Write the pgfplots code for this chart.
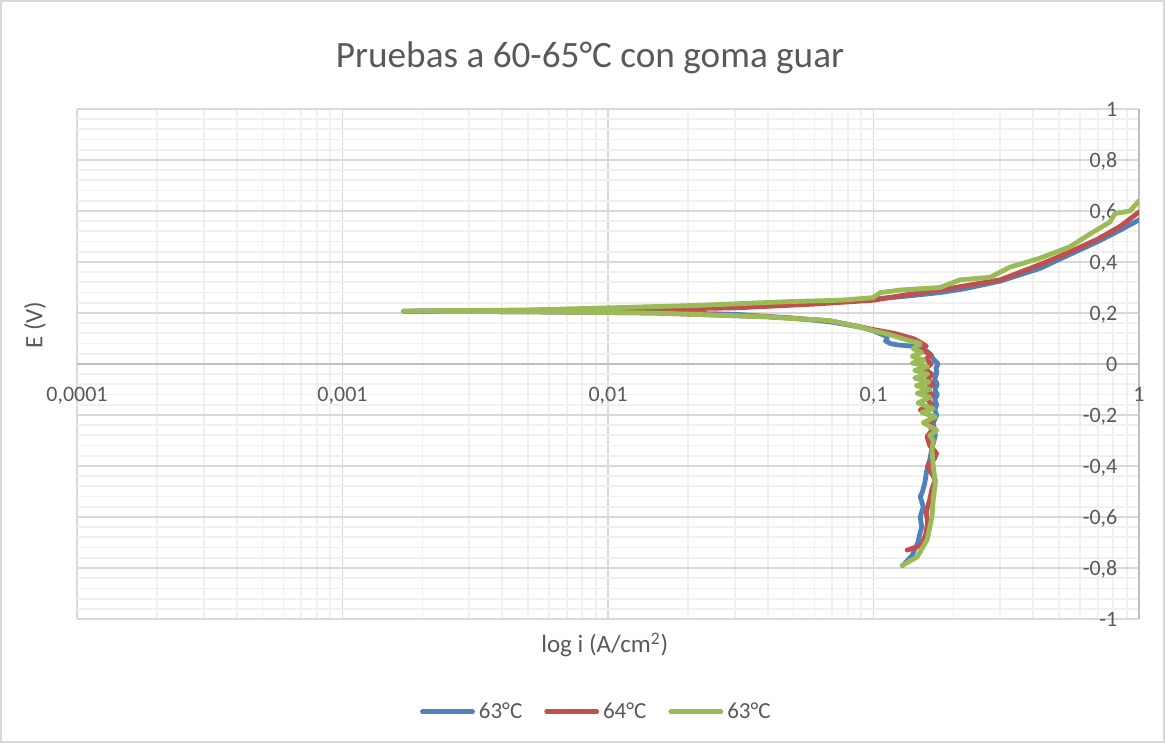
\documentclass[border=0pt]{standalone}
\usepackage{fontspec}
\setmainfont{Carlito}
\usepackage{pgfplots}
\pgfplotsset{compat=1.18}
\definecolor{exblue}{HTML}{4F81BD}
\definecolor{exred}{HTML}{C0504D}
\definecolor{exgreen}{HTML}{9BBB59}
\definecolor{txt}{HTML}{595959}
\definecolor{majg}{HTML}{D9D9D9}
\definecolor{ming}{HTML}{F0F0F0}
\definecolor{axl}{HTML}{BFBFBF}
\begin{document}
\begin{tikzpicture}[x=1pt,y=1pt]
\draw[fill=white, draw=majg, line width=0.8pt] (0.4,0.4) rectangle (582.1,371.1);
\node[txt, font=\fontsize{18.6}{22}\selectfont] at (295,342.5) {Pruebas a 60-65°C con goma guar};
\begin{axis}[
  at={(38.5pt,62pt)}, anchor=south west, scale only axis,
  width=531pt, height=255pt,
  xmode=log, xmin=1e-4, xmax=1, ymin=-1, ymax=1,
  axis x line=middle, axis y line=right,
  every inner x axis line/.append style={-},
  every outer y axis line/.append style={-},
  x axis line style={-, draw=axl, line width=0.9pt},
  y axis line style={-, draw=axl, line width=0.9pt},
  hide obscured x ticks=false, hide obscured y ticks=false,
  xtick={1e-4,1e-3,1e-2,1e-1,1},
  xticklabels={{0,0001},{0,001},{0,01},{0,1},{1}},
  ytick={-1,-0.8,-0.6,-0.4,-0.2,0,0.2,0.4,0.6,0.8,1},
  yticklabels={{-1},{-0,8},{-0,6},{-0,4},{-0,2},{0},{0,2},{0,4},{0,6},{0,8},{1}},
  minor y tick num=4,
  major tick length=0pt, minor tick length=0pt,
  grid=both,
  major grid style={draw=majg, line width=0.9pt},
  minor grid style={draw=ming, line width=0.9pt},
  ticklabel style={font=\fontsize{11}{13}\selectfont, text=txt},
  xticklabel style={anchor=base, yshift=-19pt},
  yticklabel style={anchor=base east, xshift=-7.3pt, yshift=-3.7pt},
  every axis x label/.style={at={(rel axis cs:0.497,-0.051)}, anchor=center},
  every axis y label/.style={at={(rel axis cs:-0.0395,0.576)}, anchor=center, rotate=90},
  label style={font=\fontsize{12.5}{14}\selectfont, text=txt},
  xlabel={log i (A/cm\textsuperscript{2})},
  ylabel={E (V)},
  legend columns=3,
  legend style={at={(rel axis cs:0.49,-0.182)}, anchor=center, draw=none, fill=none,
    font=\fontsize{11.5}{13}\selectfont, text=txt,
    /tikz/every even column/.append style={column sep=9pt}},
  legend image code/.code={\draw[#1, line width=2.4pt, line cap=round] (0pt,0pt) -- (25pt,0pt);},
  every axis plot/.append style={line width=2.4pt, line join=round, line cap=round},
]
\addplot[color=exblue] coordinates {
(0.129,-0.79) (0.140,-0.75) (0.147,-0.70) (0.150,-0.66) (0.152,-0.64) (0.150,-0.60)
(0.154,-0.56) (0.150,-0.52) (0.153,-0.50) (0.156,-0.467) (0.158,-0.43) (0.160,-0.40)
(0.163,-0.376) (0.166,-0.33) (0.171,-0.28) (0.168,-0.23) (0.173,-0.20) (0.170,-0.18)
(0.173,-0.16) (0.170,-0.14) (0.174,-0.12) (0.170,-0.10) (0.174,-0.08) (0.170,-0.06)
(0.173,-0.035) (0.172,-0.015) (0.175,0.0) (0.168,0.02) (0.163,0.04) (0.159,0.05)
(0.150,0.06) (0.140,0.07) (0.123,0.075) (0.116,0.08) (0.111,0.09) (0.113,0.10)
(0.111,0.11) (0.100,0.13) (0.089,0.145) (0.069,0.165)
(0.050,0.18) (0.030,0.195) (0.015,0.202) (0.005,0.205) (0.0017,0.207)
(0.005,0.21) (0.01,0.215) (0.03,0.225) (0.06,0.24) (0.1,0.255) (0.13,0.265)
(0.178,0.28) (0.22,0.295) (0.3,0.325) (0.424,0.375) (0.55,0.43) (0.7,0.48)
(0.85,0.525) (1.0,0.565)
};
\addlegendentry{63°C}
\addplot[color=exred] coordinates {
(0.134,-0.73) (0.152,-0.71) (0.157,-0.67) (0.160,-0.625) (0.158,-0.58) (0.163,-0.53)
(0.166,-0.49) (0.171,-0.455) (0.160,-0.40) (0.170,-0.37) (0.173,-0.35) (0.163,-0.32)
(0.159,-0.285) (0.166,-0.26) (0.163,-0.24) (0.168,-0.21) (0.150,-0.18) (0.166,-0.16)
(0.160,-0.14) (0.167,-0.12) (0.156,-0.10) (0.168,-0.08) (0.160,-0.06) (0.166,-0.04)
(0.156,-0.02) (0.165,0.0) (0.158,0.02) (0.165,0.035) (0.152,0.055) (0.158,0.07)
(0.150,0.085) (0.141,0.10) (0.134,0.106) (0.12,0.12) (0.10,0.135) (0.085,0.15)
(0.068,0.17) (0.04,0.185) (0.015,0.2)
(0.005,0.205) (0.0017,0.207) (0.005,0.209) (0.01,0.212) (0.03,0.22) (0.06,0.235)
(0.1,0.25) (0.13,0.27) (0.178,0.29) (0.3,0.33) (0.424,0.39) (0.55,0.44) (0.7,0.49)
(0.85,0.54) (1.0,0.596)
};
\addlegendentry{64°C}
\addplot[color=exgreen] coordinates {
(0.128,-0.79) (0.146,-0.757) (0.159,-0.69) (0.163,-0.64) (0.166,-0.60) (0.168,-0.53)
(0.171,-0.467) (0.168,-0.40) (0.166,-0.337) (0.168,-0.30) (0.163,-0.28) (0.173,-0.26)
(0.154,-0.23) (0.171,-0.207) (0.152,-0.19) (0.168,-0.175) (0.147,-0.153) (0.163,-0.13)
(0.146,-0.115) (0.163,-0.10) (0.145,-0.085) (0.162,-0.07) (0.143,-0.055) (0.160,-0.04)
(0.143,-0.025) (0.160,-0.01) (0.140,0.004) (0.155,0.015) (0.140,0.03) (0.152,0.045)
(0.141,0.06) (0.150,0.08) (0.134,0.094) (0.116,0.114) (0.089,0.145) (0.068,0.17)
(0.04,0.185) (0.015,0.2)
(0.005,0.205) (0.0017,0.207) (0.005,0.212) (0.01,0.22) (0.022,0.23) (0.049,0.245)
(0.075,0.25) (0.0995,0.26) (0.106,0.28) (0.126,0.29) (0.178,0.30) (0.212,0.33)
(0.275,0.34) (0.327,0.38) (0.424,0.415) (0.55,0.46) (0.654,0.51) (0.778,0.557)
(0.812,0.59) (0.925,0.60) (1.0,0.64)
};
\addlegendentry{63°C}
\end{axis}
\end{tikzpicture}
\end{document}
